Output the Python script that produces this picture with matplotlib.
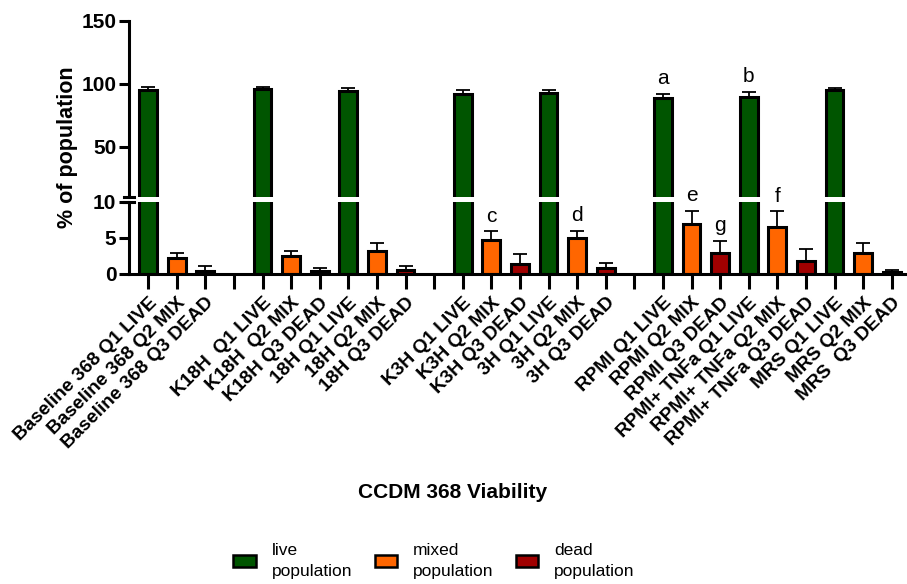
import matplotlib
matplotlib.use("Agg")
import matplotlib.pyplot as plt
import numpy as np
from matplotlib.patches import Patch

plt.rcParams['font.family'] = ['Liberation Sans', 'DejaVu Sans']

categories = ["Baseline 368 Q1 LIVE", "Baseline 368 Q2 MIX", "Baseline 368 Q3 DEAD", "",
              "K18H  Q1 LIVE", "K18H  Q2 MIX", "K18H Q3 DEAD",
              "18H Q1 LIVE", "18H Q2 MIX", "18H Q3 DEAD", "",
              "K3H Q1 LIVE", "K3H Q2 MIX", "K3H Q3 DEAD",
              "3H Q1 LIVE", "3H Q2 MIX", "3H Q3 DEAD", "",
              "RPMI Q1 LIVE", "RPMI Q2 MIX", "RPMI Q3 DEAD",
              "RPMI+ TNFa Q1 LIVE", "RPMI+ TNFa Q2 MIX", "RPMI+ TNFa Q3 DEAD",
              "MRS Q1 LIVE", "MRS Q2 MIX", "MRS  Q3 DEAD"]
# population type per slot: 0 live, 1 mixed, 2 dead, -1 empty
kinds = [0, 1, 2, -1, 0, 1, 2, 0, 1, 2, -1, 0, 1, 2, 0, 1, 2, -1, 0, 1, 2, 0, 1, 2, 0, 1, 2]
means = [95.5, 2.1, 0.4, np.nan, 95.6, 2.5, 0.3, 94.6, 3.1, 0.5, np.nan,
         92.2, 4.7, 1.3, 92.5, 4.9, 0.7, np.nan,
         88.5, 6.9, 2.8, 89.8, 6.5, 1.8, 95.3, 2.9, 0.15]
errs = [2.0, 0.7, 0.6, np.nan, 1.6, 0.7, 0.5, 1.8, 1.2, 0.5, np.nan,
        2.8, 1.2, 1.4, 2.4, 1.1, 0.8, np.nan,
        3.8, 1.9, 1.8, 3.8, 2.2, 1.6, 1.8, 1.4, 0.3]
letters = {18: "a", 21: "b", 12: "c", 15: "d", 19: "e", 22: "f", 20: "g"}
series_names = ["live\npopulation", "mixed\npopulation", "dead\npopulation"]
colors = ["#005500", "#FF6600", "#A00000"]

W, H = 907, 584
fig = plt.figure(figsize=(W / 100, H / 100), dpi=100)

def fx(px):
    return px / W

def fy(py):
    return 1 - py / H

left, right = 129, 906
ax_top = fig.add_axes([fx(left), fy(197), fx(right - left), fy(21) - fy(197)])
ax_bot = fig.add_axes([fx(left), fy(273.5), fx(right - left), fy(202) - fy(273.5)])

x = np.arange(len(categories))
valid = [i for i, k in enumerate(kinds) if k >= 0]
bar_colors = [colors[kinds[i]] for i in valid]
vals = [means[i] for i in valid]
ers = [errs[i] for i in valid]

for ax in (ax_top, ax_bot):
    ax.errorbar([x[i] for i in valid], vals, yerr=[np.zeros(len(ers)), ers],
                fmt='none', ecolor='black', elinewidth=1.3, capsize=5, capthick=1.3, zorder=1)
    ax.bar([x[i] for i in valid], vals, width=0.62, color=bar_colors,
           edgecolor='black', linewidth=2.2, zorder=2)
    ax.set_xlim(-0.67, 26.5)
    for s in ('top', 'right'):
        ax.spines[s].set_visible(False)
    ax.spines['left'].set_linewidth(2.2)
    ax.tick_params(axis='y', width=2.2, length=7, labelsize=15, pad=2)

ax_top.set_ylim(10, 150)
ax_top.set_yticks([50, 100, 150])
ax_top.spines['bottom'].set_visible(False)
ax_top.tick_params(axis='x', bottom=False, labelbottom=False)

ax_bot.set_ylim(0, 10)
ax_bot.set_yticks([0, 5, 10])
ax_bot.spines['bottom'].set_linewidth(2.2)
ax_bot.set_xticks(x)
ax_bot.set_xticklabels(categories, rotation=45, ha='right', rotation_mode='anchor',
                       fontsize=13.8, fontweight='bold')
ax_bot.tick_params(axis='x', width=2.2, length=11, pad=4)

for ax in (ax_top, ax_bot):
    for lab in ax.get_yticklabels():
        lab.set_fontweight('bold')

# break marks on the y axis
d = 5 / (right - left)
ax_top.plot([-d, d], [0, 0], transform=ax_top.transAxes, color='black', lw=2.2, clip_on=False)
ax_bot.plot([-d, d], [1, 1], transform=ax_bot.transAxes, color='black', lw=2.2, clip_on=False)

# significance letters
for i, let in letters.items():
    top = means[i] + errs[i]
    ax = ax_top if top > 10 else ax_bot
    ax.annotate(let, xy=(x[i], top), xytext=(0, 7), textcoords='offset points',
                ha='center', va='baseline', fontsize=15, annotation_clip=False)

fig.text(fx(67), fy(147), "% of population", rotation=90, ha='center', va='center',
         fontsize=15.5, fontweight='bold')
fig.text(fx(453), fy(492), "CCDM 368 Viability", ha='center', va='center',
         fontsize=15, fontweight='bold')

handles = [Patch(facecolor=c, edgecolor='black', linewidth=1.8) for c in colors]
leg = fig.legend(handles, series_names, loc='center', bbox_to_anchor=(fx(434), fy(561)),
                 ncol=3, frameon=False, fontsize=12.5, handlelength=1.3, handleheight=0.7,
                 handletextpad=0.9, columnspacing=1.3)
for t in leg.get_texts():
    t.set_linespacing(1.45)

fig.savefig("out.png", dpi=100)
